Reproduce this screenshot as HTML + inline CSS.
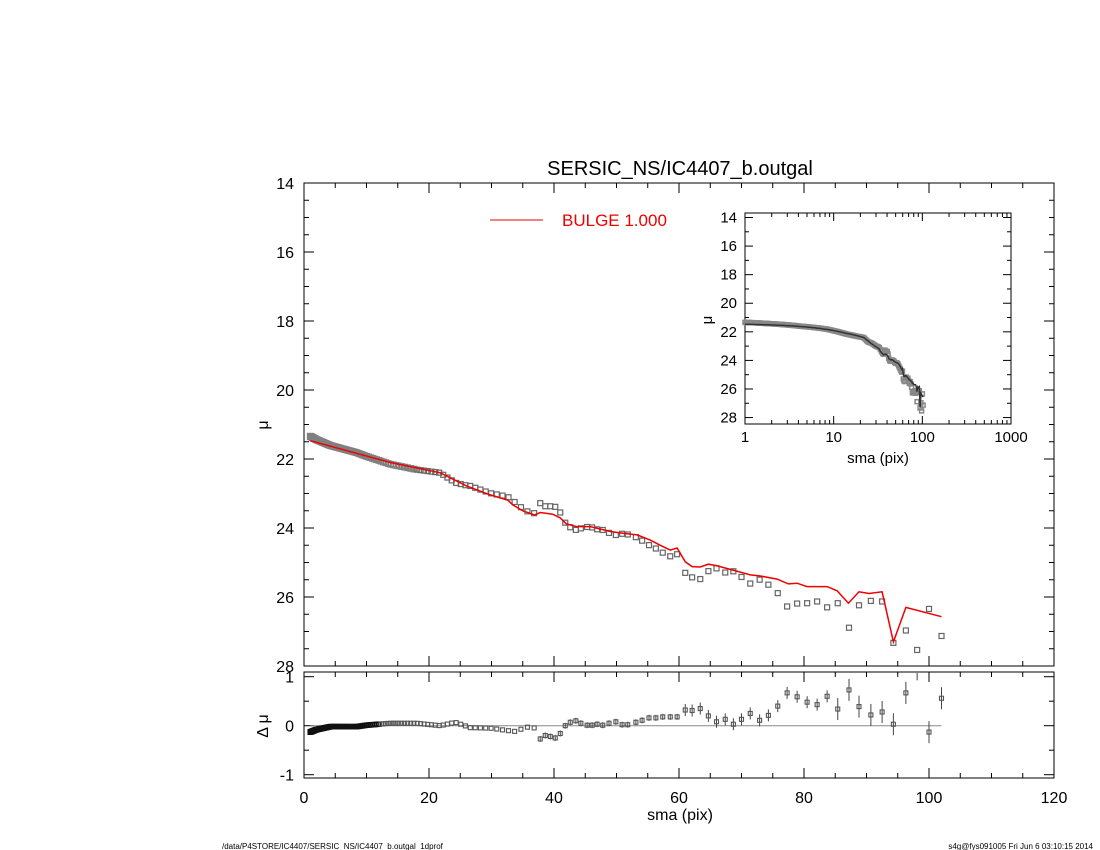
<!DOCTYPE html>
<html><head><meta charset="utf-8"><style>
body{margin:0;background:#fff}
svg{display:block}
text{font-family:"Liberation Sans",sans-serif;fill:#000}
</style></head><body>
<svg id="s" width="1100" height="850" xmlns="http://www.w3.org/2000/svg">
<rect width="1100" height="850" fill="#fff"/>
<text x="680" y="175" font-size="20" text-anchor="middle">SERSIC_NS/IC4407_b.outgal</text>
<text x="680" y="820" font-size="16" text-anchor="middle">sma (pix)</text>
<text x="268" y="425" font-size="16" text-anchor="middle" transform="rotate(-90 268 425)">μ</text>
<text x="268" y="726" font-size="16" text-anchor="middle" transform="rotate(-90 268 726)">Δ μ</text>
<line x1="490" y1="220" x2="543" y2="220" stroke="#e00" stroke-width="1"/>
<text x="562" y="226" font-size="17" fill="#e00" style="fill:#e00">BULGE  1.000</text>
<text x="878" y="463" font-size="15" text-anchor="middle">sma (pix)</text>
<text x="712" y="320" font-size="15" text-anchor="middle" transform="rotate(-90 712 320)">μ</text>
<text x="222" y="849" font-size="8">/data/P4STORE/IC4407/SERSIC_NS/IC4407_b.outgal_1dprof</text>
<text x="1093" y="849" font-size="8" text-anchor="end">s4g@fys091005  Fri Jun  6 03:10:15 2014</text>
<g id="g"></g>
</svg>
<script>
var g=document.getElementById('g'),h='';
function L(x1,y1,x2,y2,c,w){h+='<line x1="'+x1+'" y1="'+y1+'" x2="'+x2+'" y2="'+y2+'" stroke="'+(c||'#000')+'" stroke-width="'+(w||1)+'"/>';}
function T(x,y,s,sz,a){h+='<text x="'+x+'" y="'+y+'" font-size="'+sz+'" text-anchor="'+(a||'middle')+'">'+s+'</text>';}
var X0=304,XS=6.25,Y0=183,YS=34.5;
function mx(v){return X0+v*XS}function my(m){return Y0+(m-14)*YS}
var ZL=725.7,RS=49;function ry(r){return ZL-r*RS}
h+='<rect x="304" y="183" width="750" height="483" fill="none" stroke="#000"/>';
h+='<rect x="304" y="672" width="750" height="106" fill="none" stroke="#000"/>';
for(var v=0;v<=120;v+=5){var x=mx(v),l=v%20==0?10:5;L(x,666,x,666-l);L(x,183,x,183+l);L(x,778,x,778-l);L(x,672,x,672+l);if(v%20==0)T(x,803,v,16);}
for(var m=14;m<=28;m+=0.5){var y=my(m),l=(m%2==0)?10:5;L(304,y,304+l,y);L(1054,y,1054-l,y);if(m%2==0)T(294,y+6,m,16,'end');}
for(var r=-1;r<=1;r+=0.5){var y=ry(r),l=(r%1==0)?10:5;L(304,y,304+l,y);L(1054,y,1054-l,y);if(r%1==0)T(294,y+6,r,16,'end');}
var M=[[1,21.47],[13.8,22.1],[21.8,22.4],[26,22.78],[29.8,23.04],[32.6,23.19],[33.4,23.33],[35,23.5],[36.9,23.62],[37.8,23.55],[39.8,23.6],[41,23.71],[42,23.88],[43.6,23.96],[45.8,23.96],[49,24.1],[51,24.15],[53.3,24.2],[55.4,24.35],[57,24.5],[58.6,24.64],[59.7,24.58],[61,24.98],[62.1,25.12],[63.4,25.13],[64.7,25.05],[66,25.09],[71.4,25.36],[73,25.39],[75.7,25.48],[77.5,25.62],[78.9,25.6],[80.5,25.7],[83.7,25.7],[85.3,25.82],[87.1,26.18],[88.8,25.85],[90.4,25.9],[92.5,25.85],[94.3,27.3],[96.3,26.3],[102,26.57]];
var R=[[1,-0.13],[2,-0.08],[4.2,-0.02],[8.4,-0.02],[10,0.01],[13.8,0.05],[18,0.05],[21.8,0],[24.2,0.07],[26.6,-0.04],[29.8,-0.05],[32.6,-0.1],[34,-0.12],[34.9,-0.06],[35.6,-0.03],[36.3,-0.03],[37,-0.05]];
var RP=[[37.8,-0.27],[38.6,-0.2],[39.4,-0.22],[40.2,-0.25],[41,-0.16],[41.8,0],[42.6,0.07],[43.5,0.1],[44.3,0.05],[45.3,0.01],[46.1,0.01],[46.9,0.03],[47.8,0.01],[48.8,0.05],[49.9,0.08],[50.9,0.02],[51.8,0.02],[53.1,0.07],[54.1,0.11],[55.2,0.16],[56.3,0.16],[57.4,0.18],[58.6,0.18],[59.7,0.18],[61,0.32],[62.1,0.31],[63.4,0.35],[64.7,0.2],[66,0.08],[67.4,0.13],[68.7,0.03],[70,0.13],[71.4,0.25],[72.9,0.11],[74.3,0.21],[75.8,0.4],[77.3,0.67],[78.9,0.59],[80.5,0.48],[82.1,0.43],[83.7,0.6],[85.4,0.34],[87.2,0.73],[88.8,0.39],[90.7,0.22],[92.5,0.28],[94.3,0.03],[96.3,0.67],[98.1,1.15],[100,-0.13],[102,0.56]];
function interp(A,x){if(x<=A[0][0])return A[0][1];for(var i=1;i<A.length;i++)if(x<=A[i][0]){var a=A[i-1],b=A[i];return a[1]+(b[1]-a[1])*(x-a[0])/(b[0]-a[0]);}return A[A.length-1][1];}
var P=[];for(var s=1;s<37.4;s*=1.03)P.push([s,interp(R,s)]);P=P.concat(RP);
function sq(x,y,sz,c,w){h+='<rect x="'+(x-sz/2)+'" y="'+(y-sz/2)+'" width="'+sz+'" height="'+sz+'" fill="none" stroke="'+c+'" stroke-width="'+w+'"/>';}
var ix=function(s){return 745+88.67*Math.log10(s)},iy=function(m){return 217.5+(m-14)*14.29};
P.forEach(function(p){var d=interp(M,p[0])+p[1];sq(mx(p[0]),my(d),5,p[0]<18?'#808080':'#666',p[0]<18?1.8:1.2);});
var pts=M.map(function(p){return mx(p[0]).toFixed(1)+','+my(p[1]).toFixed(1)}).join(' ');
h+='<polyline points="'+pts+'" fill="none" stroke="#e00" stroke-width="1.5"/>';
L(mx(1),ZL,mx(102),ZL,'#888',1);
P.forEach(function(p){var s=p[0],e=s<37?1:(s<60?3:(s<85?6:11));var y=ry(p[1]);
 if(s>37){L(mx(s),Math.max(y-e,673),mx(s),Math.min(y+e,777),'#444',1);}
 if(y>674)sq(mx(s),y,4,s<12?'#111':'#555',s<12?1.6:1.1);});
// inset
h+='<rect x="745" y="213" width="266" height="211" fill="#fff" stroke="#000"/>';
for(var m=14;m<=28;m+=1){var y=iy(m),l=m%2==0?8:4;L(745,y,745+l,y);L(1011,y,1011-l,y);if(m%2==0)T(737,y+5,m,15,'end');}
for(var d=1;d<=1000;d*=10){for(var k=1;k<10;k++){var v=d*k;if(v>1000)break;var x=ix(v),l=k==1?8:4;L(x,424,x,424-l);L(x,213,x,213+l);}T(ix(d),442,d,15);}
P.forEach(function(p){var d=interp(M,p[0])+p[1];sq(ix(p[0]),iy(d),4,'#888',1.5);});
var ip=[];for(var s=1;s<=102;s*=1.02){ip.push(ix(s).toFixed(1)+','+iy(interp(M,s)).toFixed(1));}
M.forEach(function(p){if(p[0]>40)ip.push(ix(p[0]).toFixed(1)+','+iy(p[1]).toFixed(1));});
var ipl=[];for(var s=1;s<=40;s*=1.02)ipl.push(ix(s).toFixed(1)+','+iy(interp(M,s)).toFixed(1));
M.forEach(function(p){if(p[0]>40)ipl.push(ix(p[0]).toFixed(1)+','+iy(p[1]).toFixed(1));});
h+='<polyline points="'+ipl.join(' ')+'" fill="none" stroke="#333" stroke-width="1.5"/>';
g.innerHTML=h;
</script>
</body></html>
